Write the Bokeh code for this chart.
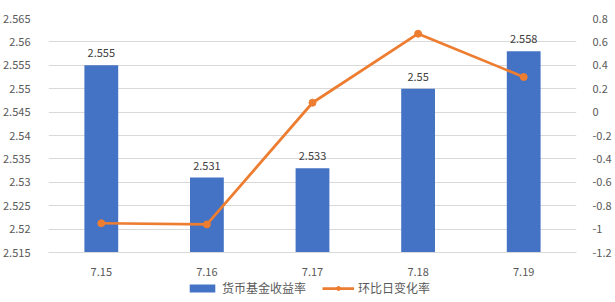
from bokeh.plotting import figure
from bokeh.models import (FactorRange, Range1d, LinearAxis, FixedTicker, Legend, LegendItem,
                          ColumnDataSource)
from bokeh.layouts import column
from bokeh.embed import file_html
from bokeh.resources import INLINE

dates = ["7.15", "7.16", "7.17", "7.18", "7.19"]
yield_rate = [2.555, 2.531, 2.533, 2.55, 2.558]
dod_change = [-0.95, -0.96, 0.08, 0.67, 0.30]
yield_labels = ["2.555", "2.531", "2.533", "2.55", "2.558"]
series_names = ["货币基金收益率", "环比日变化率"]

left_ticks = [2.515, 2.52, 2.525, 2.53, 2.535, 2.54, 2.545, 2.55, 2.555, 2.56, 2.565]
left_tick_labels = ["2.515", "2.52", "2.525", "2.53", "2.535", "2.54", "2.545", "2.55", "2.555", "2.56", "2.565"]
right_ticks = [-1.2, -1.0, -0.8, -0.6, -0.4, -0.2, 0.0, 0.2, 0.4, 0.6, 0.8]
right_tick_labels = ["-1.2", "-1", "-0.8", "-0.6", "-0.4", "-0.2", "0", "0.2", "0.4", "0.6", "0.8"]

BAR = "#4472C4"
LINE = "#ED7D31"
GRID = "#D9D9D9"
TICK = "#595959"
FONT = "Noto Sans CJK SC"

p = figure(width=615, height=280, x_range=FactorRange(*dates),
           y_range=Range1d(left_ticks[0], left_ticks[-1]),
           output_backend="svg", toolbar_location=None,
           min_border_left=47, min_border_right=39, min_border_top=18, min_border_bottom=28)
p.outline_line_color = None
p.background_fill_color = "white"
p.border_fill_color = "white"

p.extra_y_ranges = {"right": Range1d(right_ticks[0], right_ticks[-1])}

src = ColumnDataSource(dict(x=dates, top=yield_rate, lab=yield_labels, chg=dod_change))

p.vbar(x="x", top="top", bottom=left_ticks[0], width=0.32, source=src,
       fill_color=BAR, line_color=None)
p.text(x="x", y="top", text="lab", source=src, text_align="center", text_baseline="bottom",
       y_offset=-8, text_font_size="11px", text_color="#404040", text_font={"value": FONT})

p.line(x="x", y="chg", source=src, y_range_name="right", line_color=LINE, line_width=2.75)
p.scatter(x="x", y="chg", source=src, y_range_name="right", size=7,
          fill_color=LINE, line_color=LINE)

# axes
p.yaxis.ticker = FixedTicker(ticks=left_ticks)
p.yaxis.major_label_overrides = dict(zip(left_ticks, left_tick_labels))
for ax in p.yaxis:
    ax.axis_line_color = None
    ax.major_tick_line_color = None
    ax.minor_tick_line_color = None
    ax.major_label_text_font_size = "11px"
    ax.major_label_text_color = TICK
    ax.major_label_text_font = FONT
    ax.major_label_standoff = 12

ra = LinearAxis(y_range_name="right", ticker=FixedTicker(ticks=right_ticks))
ra.major_label_overrides = dict(zip(right_ticks, right_tick_labels))
ra.axis_line_color = None
ra.major_tick_line_color = None
ra.minor_tick_line_color = None
ra.major_label_text_font_size = "11px"
ra.major_label_text_color = TICK
ra.major_label_text_font = FONT
ra.major_label_standoff = 10
p.add_layout(ra, "right")

p.xaxis.axis_line_color = GRID
p.xaxis.major_tick_line_color = None
p.xaxis.minor_tick_line_color = None
p.xaxis.major_label_text_font_size = "11px"
p.xaxis.major_label_text_color = TICK
p.xaxis.major_label_text_font = FONT
p.xaxis.major_label_standoff = 9

p.xgrid.grid_line_color = None
p.ygrid.grid_line_color = GRID
p.ygrid.ticker = FixedTicker(ticks=left_ticks)

# legend strip (its renderers sit outside the visible range; only the legend shows)
lg = figure(width=615, height=22, x_range=Range1d(0, 1), y_range=Range1d(0, 1),
            output_backend="svg", toolbar_location=None,
            x_axis_location=None, y_axis_location=None,
            min_border_left=0, min_border_right=0, min_border_top=0, min_border_bottom=0)
lg.outline_line_color = None
lg.grid.visible = False
hidden = ColumnDataSource(dict(x=[-10, -11], y=[-10, -10]))
r_bar = lg.vbar(x="x", top="y", bottom=-11, width=0.1, source=hidden, fill_color=BAR, line_color=None)
r_ln = lg.line(x="x", y="y", source=hidden, line_color=LINE, line_width=2.75)
r_sc = lg.scatter(x="x", y="y", source=hidden, size=7, fill_color=LINE, line_color=LINE)

legend = Legend(items=[LegendItem(label=series_names[0], renderers=[r_bar]),
                       LegendItem(label=series_names[1], renderers=[r_ln, r_sc])],
                orientation="horizontal", location=(138, 6),
                glyph_width=32, glyph_height=10, label_standoff=4, spacing=16,
                padding=0, margin=0, border_line_color=None, background_fill_alpha=0,
                label_text_font_size="12px", label_text_color=TICK, label_text_font=FONT,
                label_height=14)
lg.add_layout(legend, "center")

open("out.html", "w").write(file_html(column(p, lg, spacing=0), INLINE))
